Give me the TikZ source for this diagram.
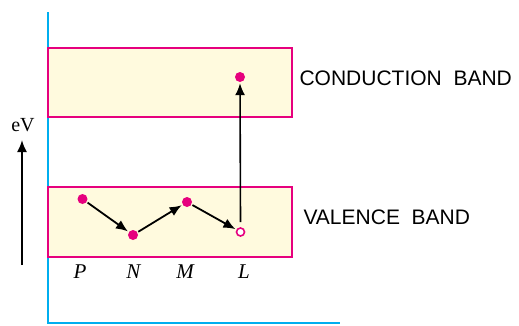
\documentclass[tikz,border=0pt]{standalone}
\usepackage{fontspec}
\setmainfont{Liberation Serif}
\setsansfont{Liberation Sans}
\usetikzlibrary{arrows.meta}
\definecolor{mag}{RGB}{230,0,126}
\definecolor{bandfill}{RGB}{255,250,222}
\definecolor{axisblue}{RGB}{0,174,239}
\begin{document}
\begin{tikzpicture}[x=1pt,y=-1pt,
  band/.style={draw=mag,fill=bandfill,line width=1.8pt},
  dotf/.style={circle,fill=mag,inner sep=0pt,minimum size=10pt},
  doth/.style={circle,draw=mag,fill=white,line width=1.6pt,inner sep=0pt,minimum size=8pt},
  arr/.style={line width=1.8pt,shorten <=1pt,shorten >=1pt,-{Latex[length=12pt,width=10pt]}},
  lbl/.style={font=\sffamily\fontsize{21}{24}\selectfont,anchor=west},
  pl/.style={font=\itshape\fontsize{21}{24}\selectfont}]
\useasboundingbox (0,0) rectangle (519,325);
\draw[axisblue,line width=1.8pt] (48,12) -- (48,323) -- (340,323);
\draw[band] (48,48) rectangle (292,117);
\draw[band] (48,187) rectangle (292,257);
\node[dotf] (c) at (240,77) {};
\node[dotf] (p) at (82.5,199) {};
\node[dotf] (n) at (133,235) {};
\node[dotf] (m) at (187,202) {};
\node[doth] (l) at (240.5,232) {};
\draw[arr] (p) -- (n);
\draw[arr] (n) -- (m);
\draw[arr] (m) -- (l);
\coordinate (ls) at (240.5,222);
\draw[arr,line width=1.6pt,shorten <=0pt] (ls) -- (c);
\node[lbl] (cb) at (296,78) {CONDUCTION\ \ BAND};
\node[lbl] (vb) at (300,217) {VALENCE\ \ BAND};
\node[font=\fontsize{20}{22}\selectfont,inner sep=0pt] (ev) at (23,125) {eV};
\coordinate (evb) at (22,265);
\coordinate (evt) at (22,140);
\draw[arr,shorten <=0pt,shorten >=0pt] (evb) -- (evt);
\node[pl] (lp) at (80,272) {P};
\node[pl] (ln) at (133.5,272) {N};
\node[pl] (lm) at (185,272) {M};
\node[pl] (ll) at (244,272) {L};
\end{tikzpicture}
\end{document}
